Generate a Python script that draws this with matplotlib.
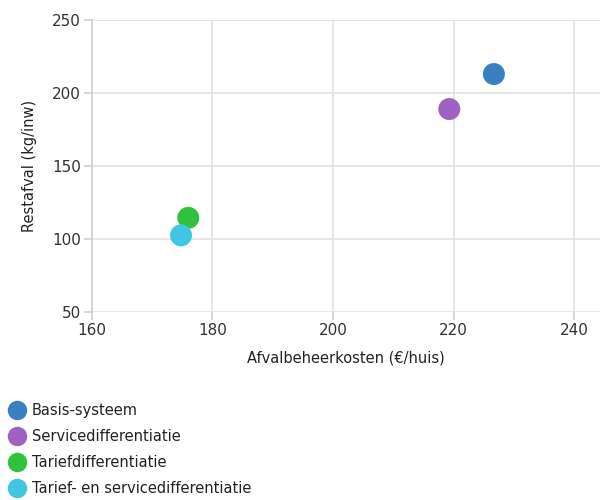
import matplotlib.pyplot as plt
from matplotlib.lines import Line2D

# data
systems = ['Basis-systeem', 'Servicedifferentiatie', 'Tariefdifferentiatie',
           'Tarief- en servicedifferentiatie']
kosten = [226.7, 219.3, 176.0, 174.8]      # Afvalbeheerkosten (EUR/huis)
restafval = [213, 189, 114.5, 102.5]       # Restafval (kg/inw)
colors = ['#3a7fc1', '#9e62c5', '#2fc23c', '#40c5e2']

x_ticks = [160, 180, 200, 220, 240]
y_ticks = [50, 100, 150, 200, 250]

plt.rcParams['font.family'] = ['DejaVu Sans']

fig = plt.figure(figsize=(6, 5), dpi=100)
ax = fig.add_axes([0.153, 0.376, 0.847, 0.584])

for x, y, c in zip(kosten, restafval, colors):
    ax.scatter(x, y, s=250, color=c, edgecolors='none', zorder=3)

ax.set_xlim(160, 244.3)
ax.set_ylim(50, 250)
ax.set_xticks(x_ticks)
ax.set_yticks(y_ticks)
ax.grid(True, color='#e2e2e2', linewidth=1.2)
ax.set_axisbelow(True)

for s in ['top', 'right', 'bottom']:
    ax.spines[s].set_visible(False)
ax.spines['left'].set_color('#cfcfcf')
ax.spines['left'].set_linewidth(1.2)
ax.tick_params(axis='both', colors='#cfcfcf', length=6, width=1.2,
               labelcolor='#333333', labelsize=11, pad=2)

ax.set_xlabel('Afvalbeheerkosten (€/huis)', fontsize=10.5, color='#222222', labelpad=9)
ax.set_ylabel('Restafval (kg/inw)', fontsize=10.5, color='#222222', labelpad=11)

handles = [Line2D([], [], marker='o', linestyle='none', markersize=14,
                  markerfacecolor=c, markeredgecolor='none') for c in colors]
fig.legend(handles, systems, loc='upper left', bbox_to_anchor=(-0.005, 0.218),
           frameon=False, fontsize=10.5, handletextpad=0.4, labelspacing=0.76,
           handlelength=1.2, borderpad=0.3, labelcolor='#222222')

fig.savefig('out.png', dpi=100)
